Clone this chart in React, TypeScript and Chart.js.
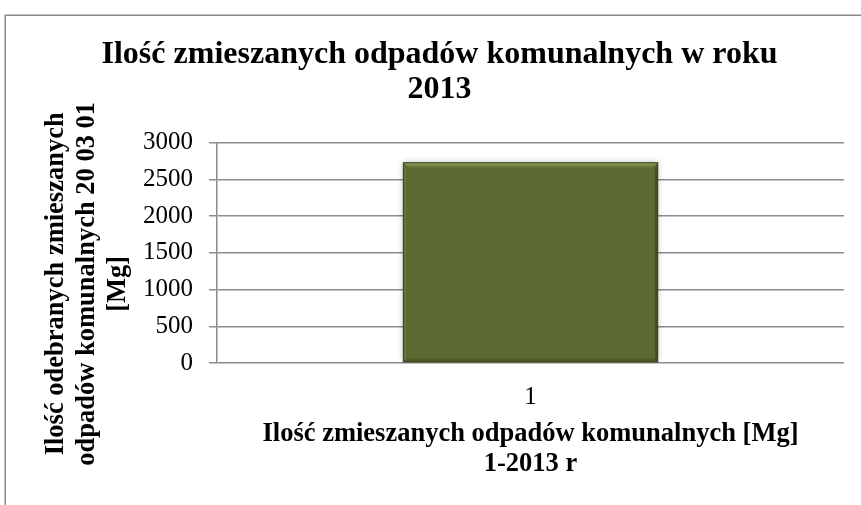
import React, { useEffect, useRef } from 'react';
import { Chart, registerables } from 'chart.js';

Chart.register(...registerables);

const categories = ['1'];
const values = [2733];
const yTicks = [0, 500, 1000, 1500, 2000, 2500, 3000];
const chartTitle = ['Ilość zmieszanych odpadów komunalnych w roku', '2013'];
const xTitle = ['Ilość zmieszanych odpadów komunalnych [Mg]', '1-2013 r'];
const yTitle = ['Ilość odebranych zmieszanych', 'odpadów komunalnych 20 03 01', '[Mg]'];

const SERIF = "'Liberation Serif', 'Times New Roman', serif";
const GRID = '#8c8c8c';
const BAR = '#5a6a30';

const framePlugin = {
  id: 'frame',
  beforeDraw(chart: any) {
    const ctx = chart.ctx;
    ctx.save();
    ctx.fillStyle = '#ffffff';
    ctx.fillRect(0, 0, chart.width, chart.height);
    ctx.strokeStyle = '#8a8a8a';
    ctx.lineWidth = 1.5;
    ctx.strokeRect(5.25, 15.25, chart.width + 20, chart.height + 20);
    ctx.restore();
  },
};

const yTitlePlugin = {
  id: 'yTitleCustom',
  afterDraw(chart: any) {
    const ctx = chart.ctx;
    const area = chart.chartArea;
    ctx.save();
    ctx.fillStyle = '#000000';
    ctx.font = `bold 26.5px ${SERIF}`;
    ctx.textAlign = 'center';
    ctx.textBaseline = 'alphabetic';
    const cy = (area.top + area.bottom) / 2 + 31;
    const baseX = area.left - 154.5;
    yTitle.forEach((line, i) => {
      ctx.save();
      ctx.translate(baseX + i * 31, cy);
      ctx.rotate(-Math.PI / 2);
      ctx.fillText(line, 0, 0);
      ctx.restore();
    });
    ctx.restore();
  },
};

const bevelPlugin = {
  id: 'bevel',
  beforeDatasetsDraw(chart: any) {
    const ctx = chart.ctx;
    ctx.save();
    ctx.shadowColor = 'rgba(0,0,0,0.28)';
    ctx.shadowBlur = 7;
    ctx.shadowOffsetX = 0;
    ctx.shadowOffsetY = 0;
  },
  afterDatasetsDraw(chart: any) {
    const ctx = chart.ctx;
    ctx.restore();
    const meta = chart.getDatasetMeta(0);
    meta.data.forEach((el: any) => {
      const { x, y, base, width } = el.getProps(['x', 'y', 'base', 'width'], true);
      const l = x - width / 2;
      const r = x + width / 2;
      const t = Math.min(y, base);
      const b = Math.max(y, base);
      const bv = 6;
      ctx.save();
      const g = ctx.createLinearGradient(0, t, 0, t + bv);
      g.addColorStop(0, '#93a663');
      g.addColorStop(1, BAR);
      ctx.fillStyle = g;
      ctx.beginPath();
      ctx.moveTo(l, t);
      ctx.lineTo(r, t);
      ctx.lineTo(r - bv, t + bv);
      ctx.lineTo(l + bv, t + bv);
      ctx.closePath();
      ctx.fill();
      ctx.fillStyle = 'rgba(20,28,5,0.35)';
      ctx.beginPath();
      ctx.moveTo(r, t);
      ctx.lineTo(r, b);
      ctx.lineTo(r - 3, b - 3);
      ctx.lineTo(r - 3, t + bv);
      ctx.closePath();
      ctx.fill();
      ctx.fillStyle = 'rgba(20,28,5,0.18)';
      ctx.beginPath();
      ctx.moveTo(l, b);
      ctx.lineTo(r, b);
      ctx.lineTo(r - 4, b - 4);
      ctx.lineTo(l + 4, b - 4);
      ctx.closePath();
      ctx.fill();
      ctx.fillStyle = 'rgba(255,255,255,0.06)';
      ctx.beginPath();
      ctx.moveTo(l, t);
      ctx.lineTo(l + 4, t + bv);
      ctx.lineTo(l + 4, b - 4);
      ctx.lineTo(l, b);
      ctx.closePath();
      ctx.fill();
      ctx.strokeStyle = '#3b4720';
      ctx.lineWidth = 1;
      ctx.strokeRect(l + 0.5, t + 0.5, width - 1, b - t - 1);
      ctx.restore();
    });
  },
};

export default function App() {
  const ref = useRef<HTMLCanvasElement | null>(null);

  useEffect(() => {
    if (!ref.current) return;
    const chart = new Chart(ref.current, {
      type: 'bar',
      data: {
        labels: categories,
        datasets: [
          {
            data: values,
            backgroundColor: BAR,
            borderWidth: 0,
            categoryPercentage: 1,
            barPercentage: 0.407,
          },
        ],
      },
      options: {
        responsive: false,
        animation: false,
        devicePixelRatio: 1,
        layout: { padding: { left: 35, right: 17, top: 0, bottom: 0 } },
        plugins: {
          legend: { display: false },
          tooltip: { enabled: false },
          title: {
            display: true,
            text: chartTitle,
            color: '#000000',
            font: { family: SERIF, size: 32, weight: 'bold', lineHeight: 35 / 32 },
            padding: { top: 37.7, bottom: 35 },
          },
        },
        scales: {
          x: {
            afterFit(scale: any) {
              scale.height = 142;
            },
            grid: { display: false, drawTicks: false },
            border: { display: false },
            ticks: {
              color: '#000000',
              font: { family: SERIF, size: 25 },
              padding: 19,
            },
            title: {
              display: true,
              text: xTitle,
              color: '#000000',
              font: { family: SERIF, size: 26.5, weight: 'bold', lineHeight: 30 / 26.5 },
              padding: { top: 0, bottom: 26 },
            },
          },
          y: {
            min: yTicks[0],
            max: yTicks[yTicks.length - 1],
            afterFit(scale: any) {
              scale.width = 182;
            },
            ticks: {
              stepSize: yTicks[1] - yTicks[0],
              color: '#000000',
              font: { family: SERIF, size: 25 },
              padding: 16,
              callback: (v: any) => String(v),
            },
            grid: {
              color: GRID,
              lineWidth: 1.5,
              drawTicks: true,
              tickLength: 8,
              tickColor: GRID,
            },
            border: { display: true, color: GRID, width: 1.5 },
          },
        },
      },
      plugins: [framePlugin, bevelPlugin, yTitlePlugin],
    });
    return () => chart.destroy();
  }, []);

  return (
    <div style={{ position: 'fixed', left: 0, top: 0, width: 861, height: 505, background: '#fff' }}>
      <canvas ref={ref} width={861} height={505} style={{ display: 'block', width: 861, height: 505 }} />
    </div>
  );
}
